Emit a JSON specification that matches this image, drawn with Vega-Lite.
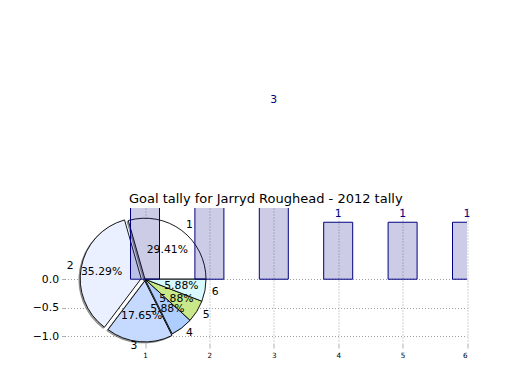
{
  "$schema": "https://vega.github.io/schema/vega-lite/v6.json",
  "width": 402.5,
  "height": 135,
  "autosize": {"type": "none"},
  "padding": {"left": 64.5, "top": 208, "right": 53, "bottom": 47},
  "background": "white",
  "config": {
    "view": {"stroke": null},
    "font": "DejaVu Sans",
    "axis": {
      "grid": true, "gridColor": "#a0a0a0", "gridDash": [1, 2], "gridWidth": 1, "gridOpacity": 1,
      "domain": false, "tickColor": "#b0b0b0", "labelColor": "black",
      "labelFont": "DejaVu Sans", "zindex": 1
    },
    "axisX": {"labelFontSize": 7.2, "tickSize": 5, "labelPadding": 3},
    "axisY": {"labelFontSize": 10.8, "tickSize": 3, "labelPadding": 3}
  },
  "data": {"values": [
    {"round": 1, "goals": 5, "share": 0.2941},
    {"round": 2, "goals": 6, "share": 0.3529},
    {"round": 3, "goals": 3, "share": 0.1765},
    {"round": 4, "goals": 1, "share": 0.0588},
    {"round": 5, "goals": 1, "share": 0.0588},
    {"round": 6, "goals": 1, "share": 0.0588}
  ]},
  "layer": [
    {
      "transform": [
        {"stack": "goals", "groupby": [], "sort": [{"field": "round", "order": "ascending"}], "as": ["t0", "t1"]},
        {"filter": {"field": "round", "oneOf": [1, 4, 5, 6]}}
      ],
      "mark": {"type": "arc", "radius": 61, "fill": "#4d4d4d", "fillOpacity": 0.5, "stroke": "#4d4d4d", "strokeOpacity": 0.5, "strokeWidth": 1},
      "encoding": {
        "x": {"datum": 0.98, "type": "quantitative", "scale": {"domain": [-0.25, 6], "nice": false, "zero": false, "padding": 0}, "axis": {"values": [1, 2, 3, 4, 5, 6], "format": "d", "title": null}},
        "y": {"datum": -0.02, "type": "quantitative", "scale": {"domain": [-1.12, 1.25], "nice": false, "zero": false, "padding": 0}, "axis": {"values": [-1, -0.5, 0], "format": ".1f", "title": null}},
        "theta": {"field": "t0", "type": "quantitative", "scale": {"domain": [0, 17], "range": [1.5707963, -4.712389]}},
        "theta2": {"field": "t1"}
      }
    },
    {
      "transform": [
        {"stack": "goals", "groupby": [], "sort": [{"field": "round", "order": "ascending"}], "as": ["t0", "t1"]},
        {"filter": {"field": "round", "equal": 2}}
      ],
      "mark": {"type": "arc", "radius": 61, "fill": "#4d4d4d", "fillOpacity": 0.5, "stroke": "#4d4d4d", "strokeOpacity": 0.5, "strokeWidth": 1},
      "encoding": {
        "x": {"datum": 0.921, "type": "quantitative", "scale": {"domain": [-0.25, 6], "nice": false, "zero": false, "padding": 0}, "axis": {"values": [1, 2, 3, 4, 5, 6], "format": "d", "title": null}},
        "y": {"datum": -0.009, "type": "quantitative", "scale": {"domain": [-1.12, 1.25], "nice": false, "zero": false, "padding": 0}, "axis": {"values": [-1, -0.5, 0], "format": ".1f", "title": null}},
        "theta": {"field": "t0", "type": "quantitative", "scale": {"domain": [0, 17], "range": [1.5707963, -4.712389]}},
        "theta2": {"field": "t1"}
      }
    },
    {
      "transform": [
        {"stack": "goals", "groupby": [], "sort": [{"field": "round", "order": "ascending"}], "as": ["t0", "t1"]},
        {"filter": {"field": "round", "equal": 3}}
      ],
      "mark": {"type": "arc", "radius": 61, "fill": "#4d4d4d", "fillOpacity": 0.5, "stroke": "#4d4d4d", "strokeOpacity": 0.5, "strokeWidth": 1},
      "encoding": {
        "x": {"datum": 0.977, "type": "quantitative", "scale": {"domain": [-0.25, 6], "nice": false, "zero": false, "padding": 0}, "axis": {"values": [1, 2, 3, 4, 5, 6], "format": "d", "title": null}},
        "y": {"datum": -0.05, "type": "quantitative", "scale": {"domain": [-1.12, 1.25], "nice": false, "zero": false, "padding": 0}, "axis": {"values": [-1, -0.5, 0], "format": ".1f", "title": null}},
        "theta": {"field": "t0", "type": "quantitative", "scale": {"domain": [0, 17], "range": [1.5707963, -4.712389]}},
        "theta2": {"field": "t1"}
      }
    },
    {
      "transform": [
        {"stack": "goals", "groupby": [], "sort": [{"field": "round", "order": "ascending"}], "as": ["t0", "t1"]},
        {"filter": {"field": "round", "oneOf": [1, 4, 5, 6]}}
      ],
      "mark": {"type": "arc", "radius": 61, "stroke": "black", "strokeWidth": 0.9},
      "encoding": {
        "x": {"datum": 1, "type": "quantitative", "scale": {"domain": [-0.25, 6], "nice": false, "zero": false, "padding": 0}, "axis": {"values": [1, 2, 3, 4, 5, 6], "format": "d", "title": null}},
        "y": {"datum": 0, "type": "quantitative", "scale": {"domain": [-1.12, 1.25], "nice": false, "zero": false, "padding": 0}, "axis": {"values": [-1, -0.5, 0], "format": ".1f", "title": null}},
        "theta": {"field": "t0", "type": "quantitative", "scale": {"domain": [0, 17], "range": [1.5707963, -4.712389]}},
        "theta2": {"field": "t1"},
        "fill": {"field": "round", "type": "nominal", "scale": {"domain": [1, 2, 3, 4, 5, 6], "range": ["#ffffff", "#eaf0ff", "#c6d9ff", "#aeceff", "#c8e88a", "#d8faff"]}, "legend": null}
      }
    },
    {
      "transform": [
        {"stack": "goals", "groupby": [], "sort": [{"field": "round", "order": "ascending"}], "as": ["t0", "t1"]},
        {"filter": {"field": "round", "equal": 2}}
      ],
      "mark": {"type": "arc", "radius": 61, "stroke": "black", "strokeWidth": 0.9},
      "encoding": {
        "x": {"datum": 0.941, "type": "quantitative", "scale": {"domain": [-0.25, 6], "nice": false, "zero": false, "padding": 0}, "axis": {"values": [1, 2, 3, 4, 5, 6], "format": "d", "title": null}},
        "y": {"datum": 0.011, "type": "quantitative", "scale": {"domain": [-1.12, 1.25], "nice": false, "zero": false, "padding": 0}, "axis": {"values": [-1, -0.5, 0], "format": ".1f", "title": null}},
        "theta": {"field": "t0", "type": "quantitative", "scale": {"domain": [0, 17], "range": [1.5707963, -4.712389]}},
        "theta2": {"field": "t1"},
        "fill": {"field": "round", "type": "nominal", "scale": {"domain": [1, 2, 3, 4, 5, 6], "range": ["#ffffff", "#eaf0ff", "#c6d9ff", "#aeceff", "#c8e88a", "#d8faff"]}, "legend": null}
      }
    },
    {
      "transform": [
        {"stack": "goals", "groupby": [], "sort": [{"field": "round", "order": "ascending"}], "as": ["t0", "t1"]},
        {"filter": {"field": "round", "equal": 3}}
      ],
      "mark": {"type": "arc", "radius": 61, "stroke": "black", "strokeWidth": 0.9},
      "encoding": {
        "x": {"datum": 0.997, "type": "quantitative", "scale": {"domain": [-0.25, 6], "nice": false, "zero": false, "padding": 0}, "axis": {"values": [1, 2, 3, 4, 5, 6], "format": "d", "title": null}},
        "y": {"datum": -0.03, "type": "quantitative", "scale": {"domain": [-1.12, 1.25], "nice": false, "zero": false, "padding": 0}, "axis": {"values": [-1, -0.5, 0], "format": ".1f", "title": null}},
        "theta": {"field": "t0", "type": "quantitative", "scale": {"domain": [0, 17], "range": [1.5707963, -4.712389]}},
        "theta2": {"field": "t1"},
        "fill": {"field": "round", "type": "nominal", "scale": {"domain": [1, 2, 3, 4, 5, 6], "range": ["#ffffff", "#eaf0ff", "#c6d9ff", "#aeceff", "#c8e88a", "#d8faff"]}, "legend": null}
      }
    },
    {
      "mark": {"type": "bar", "width": 29, "fill": "#000080", "fillOpacity": 0.2, "stroke": "#000080", "strokeWidth": 1, "clip": true},
      "encoding": {
        "x": {"field": "round", "type": "quantitative", "scale": {"domain": [-0.25, 6], "nice": false, "zero": false, "padding": 0}, "axis": {"values": [1, 2, 3, 4, 5, 6], "format": "d", "title": null}},
        "y": {"field": "goals", "type": "quantitative", "scale": {"domain": [-1.12, 1.25], "nice": false, "zero": false, "padding": 0}, "axis": {"values": [-1, -0.5, 0], "format": ".1f", "title": null}}
      }
    },
    {
      "mark": {"type": "text", "baseline": "bottom", "dy": -3, "fill": "#000080", "fontSize": 10.8, "font": "DejaVu Sans"},
      "encoding": {
        "x": {"field": "round", "type": "quantitative", "scale": {"domain": [-0.25, 6], "nice": false, "zero": false, "padding": 0}, "axis": {"values": [1, 2, 3, 4, 5, 6], "format": "d", "title": null}},
        "y": {"field": "goals", "type": "quantitative", "scale": {"domain": [-1.12, 1.25], "nice": false, "zero": false, "padding": 0}, "axis": {"values": [-1, -0.5, 0], "format": ".1f", "title": null}},
        "text": {"field": "goals", "type": "quantitative"}
      }
    },
    {
      "mark": {"type": "text", "radius": 68, "fontSize": 10.8, "font": "DejaVu Sans", "fill": "black", "baseline": "middle", "align": "left"},
      "encoding": {
        "x": {"datum": 1, "type": "quantitative", "scale": {"domain": [-0.25, 6], "nice": false, "zero": false, "padding": 0}, "axis": {"values": [1, 2, 3, 4, 5, 6], "format": "d", "title": null}},
        "y": {"datum": 0, "type": "quantitative", "scale": {"domain": [-1.12, 1.25], "nice": false, "zero": false, "padding": 0}, "axis": {"values": [-1, -0.5, 0], "format": ".1f", "title": null}},
        "theta": {"field": "goals", "type": "quantitative", "stack": true, "scale": {"domain": [0, 17], "range": [1.5707963, -4.712389]}},
        "order": {"field": "round", "type": "quantitative"},
        "detail": {"field": "round", "type": "nominal"},
        "opacity": {"condition": {"test": "datum.round == 2 || datum.round == 3", "value": 0}, "value": 1},
        "text": {"field": "round", "type": "nominal"}
      }
    },
    {
      "mark": {"type": "text", "radius": 68, "fontSize": 10.8, "font": "DejaVu Sans", "fill": "black", "baseline": "middle", "align": "right"},
      "encoding": {
        "x": {"datum": 0.98, "type": "quantitative", "scale": {"domain": [-0.25, 6], "nice": false, "zero": false, "padding": 0}, "axis": {"values": [1, 2, 3, 4, 5, 6], "format": "d", "title": null}},
        "y": {"datum": 0.02, "type": "quantitative", "scale": {"domain": [-1.12, 1.25], "nice": false, "zero": false, "padding": 0}, "axis": {"values": [-1, -0.5, 0], "format": ".1f", "title": null}},
        "theta": {"field": "goals", "type": "quantitative", "stack": true, "scale": {"domain": [0, 17], "range": [1.5707963, -4.712389]}},
        "order": {"field": "round", "type": "quantitative"},
        "detail": {"field": "round", "type": "nominal"},
        "opacity": {"condition": {"test": "datum.round == 3", "value": 1}, "value": 0},
        "text": {"field": "round", "type": "nominal"}
      }
    },
    {
      "mark": {"type": "text", "radius": 68, "fontSize": 10.8, "font": "DejaVu Sans", "fill": "black", "baseline": "middle", "align": "right"},
      "encoding": {
        "x": {"datum": 0.93, "type": "quantitative", "scale": {"domain": [-0.25, 6], "nice": false, "zero": false, "padding": 0}, "axis": {"values": [1, 2, 3, 4, 5, 6], "format": "d", "title": null}},
        "y": {"datum": 0.011, "type": "quantitative", "scale": {"domain": [-1.12, 1.25], "nice": false, "zero": false, "padding": 0}, "axis": {"values": [-1, -0.5, 0], "format": ".1f", "title": null}},
        "theta": {"field": "goals", "type": "quantitative", "stack": true, "scale": {"domain": [0, 17], "range": [1.5707963, -4.712389]}},
        "order": {"field": "round", "type": "quantitative"},
        "detail": {"field": "round", "type": "nominal"},
        "opacity": {"condition": {"test": "datum.round == 2", "value": 1}, "value": 0},
        "text": {"field": "round", "type": "nominal"}
      }
    },
    {
      "mark": {"type": "text", "radius": 37, "fontSize": 10.8, "font": "DejaVu Sans", "fill": "black", "baseline": "middle", "align": "center"},
      "encoding": {
        "x": {"datum": 1, "type": "quantitative", "scale": {"domain": [-0.25, 6], "nice": false, "zero": false, "padding": 0}, "axis": {"values": [1, 2, 3, 4, 5, 6], "format": "d", "title": null}},
        "y": {"datum": 0, "type": "quantitative", "scale": {"domain": [-1.12, 1.25], "nice": false, "zero": false, "padding": 0}, "axis": {"values": [-1, -0.5, 0], "format": ".1f", "title": null}},
        "theta": {"field": "goals", "type": "quantitative", "stack": true, "scale": {"domain": [0, 17], "range": [1.5707963, -4.712389]}},
        "order": {"field": "round", "type": "quantitative"},
        "detail": {"field": "round", "type": "nominal"},
        "opacity": {"condition": {"test": "datum.round == 2", "value": 0}, "value": 1},
        "text": {"field": "share", "type": "quantitative", "format": ".2%"}
      }
    },
    {
      "mark": {"type": "text", "radius": 37, "fontSize": 10.8, "font": "DejaVu Sans", "fill": "black", "baseline": "middle", "align": "center"},
      "encoding": {
        "x": {"datum": 0.89, "type": "quantitative", "scale": {"domain": [-0.25, 6], "nice": false, "zero": false, "padding": 0}, "axis": {"values": [1, 2, 3, 4, 5, 6], "format": "d", "title": null}},
        "y": {"datum": 0.011, "type": "quantitative", "scale": {"domain": [-1.12, 1.25], "nice": false, "zero": false, "padding": 0}, "axis": {"values": [-1, -0.5, 0], "format": ".1f", "title": null}},
        "theta": {"field": "goals", "type": "quantitative", "stack": true, "scale": {"domain": [0, 17], "range": [1.5707963, -4.712389]}},
        "order": {"field": "round", "type": "quantitative"},
        "detail": {"field": "round", "type": "nominal"},
        "opacity": {"condition": {"test": "datum.round == 2", "value": 1}, "value": 0},
        "text": {"field": "share", "type": "quantitative", "format": ".2%"}
      }
    },
    {
      "data": {"values": [{"title": "Goal tally for Jarryd Roughead - 2012 tally"}]},
      "mark": {"type": "text", "fontSize": 13, "font": "DejaVu Sans", "fill": "black", "baseline": "alphabetic", "align": "center", "dy": -5},
      "encoding": {
        "x": {"datum": 2.875, "type": "quantitative", "scale": {"domain": [-0.25, 6], "nice": false, "zero": false, "padding": 0}, "axis": {"values": [1, 2, 3, 4, 5, 6], "format": "d", "title": null}},
        "y": {"datum": 1.25, "type": "quantitative", "scale": {"domain": [-1.12, 1.25], "nice": false, "zero": false, "padding": 0}, "axis": {"values": [-1, -0.5, 0], "format": ".1f", "title": null}},
        "text": {"field": "title", "type": "nominal"}
      }
    }
  ]
}
